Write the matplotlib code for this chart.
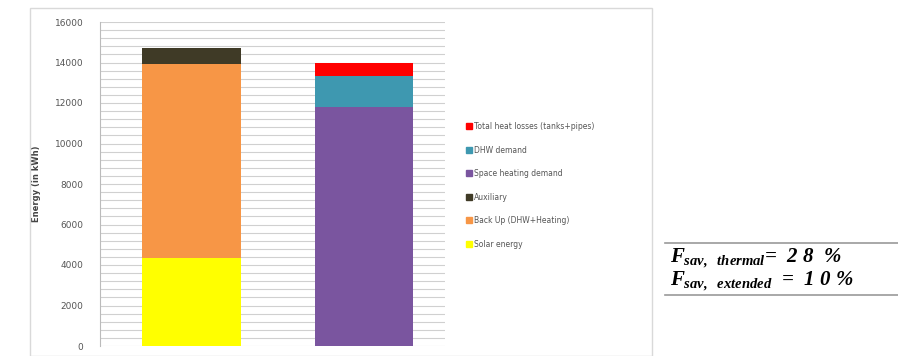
import matplotlib
matplotlib.use("Agg")
import matplotlib.pyplot as plt
from matplotlib.patches import Rectangle
from matplotlib.lines import Line2D
import numpy as np

plt.rcParams['mathtext.fontset'] = 'custom'
plt.rcParams['mathtext.it'] = 'Liberation Serif:italic:bold'
plt.rcParams['mathtext.rm'] = 'Liberation Serif:italic:bold'

# Data (kWh)
cases = ["Case 1", "Case 2"]
solar = [4350, 0]
backup = [9600, 0]
auxiliary = [750, 0]
space_heating = [0, 11800]
dhw = [0, 1550]
losses = [0, 620]

series = [
    ("Solar energy", solar, "#FFFF00"),
    ("Back Up (DHW+Heating)", backup, "#F79646"),
    ("Auxiliary", auxiliary, "#3F3A26"),
    ("Space heating demand", space_heating, "#7A559F"),
    ("DHW demand", dhw, "#3E98B0"),
    ("Total heat losses (tanks+pipes)", losses, "#FF0000"),
]

fig = plt.figure(figsize=(8.98, 3.56), dpi=100)
# chart area border
fig.patches.append(Rectangle((30 / 898, 0), 622 / 898, 348 / 356, transform=fig.transFigure,
                             fill=False, edgecolor="#D9D9D9", linewidth=1.0))

ax = fig.add_axes([100 / 898, 10 / 356, 345 / 898, 324 / 356])
x = np.arange(len(cases))
bottom = np.zeros(len(cases))
handles = []
for name, vals, col in series:
    ax.bar(x, vals, width=0.57, bottom=bottom, color=col, zorder=3)
    bottom += np.array(vals)
    handles.append(Line2D([], [], marker='s', linestyle='none', markersize=4,
                          markerfacecolor=col, markeredgecolor=col, label=name))

ax.set_xlim(-0.53, 1.47)
ax.set_ylim(0, 16000)
ax.set_yticks(np.arange(0, 16001, 2000))
ax.set_yticks(np.arange(0, 16001, 400), minor=True)
ax.tick_params(axis='y', which='both', length=0, labelsize=6.5, colors='#555555', pad=12)
ax.set_xticks([])
ax.grid(axis='y', which='both', color='#D0D0D0', linewidth=0.8, zorder=0)
for s in ['top', 'right', 'bottom']:
    ax.spines[s].set_visible(False)
ax.spines['left'].set_color('#BBBBBB')
ax.set_ylabel("Energy (in kWh)", fontsize=6, fontweight='bold', color='#444444', labelpad=10)

leg = fig.legend(handles=handles[::-1], loc='upper left', bbox_to_anchor=(463 / 898, 1 - 119 / 356),
                 frameon=False, fontsize=5.5, labelspacing=1.9, handletextpad=0.2,
                 handlelength=0.8, borderaxespad=0)
for t in leg.get_texts():
    t.set_color('#555555')

# savings fraction box
fig.add_artist(Line2D([665 / 898, 1], [1 - 243 / 356] * 2, transform=fig.transFigure,
                      color='#999999', linewidth=1.2))
fig.add_artist(Line2D([665 / 898, 1], [1 - 295 / 356] * 2, transform=fig.transFigure,
                      color='#999999', linewidth=1.2))
fig.text(670 / 898, 1 - 258 / 356, r'$F_{sav,\ \ thermal}$=  2 8  %', fontsize=15,
         family='Liberation Serif', style='italic', weight='bold', va='center')
fig.text(670 / 898, 1 - 281 / 356, r'$F_{sav,\ \ extended}$  =  1 0 %', fontsize=15,
         family='Liberation Serif', style='italic', weight='bold', va='center')

fig.savefig("out.png", dpi=100)
